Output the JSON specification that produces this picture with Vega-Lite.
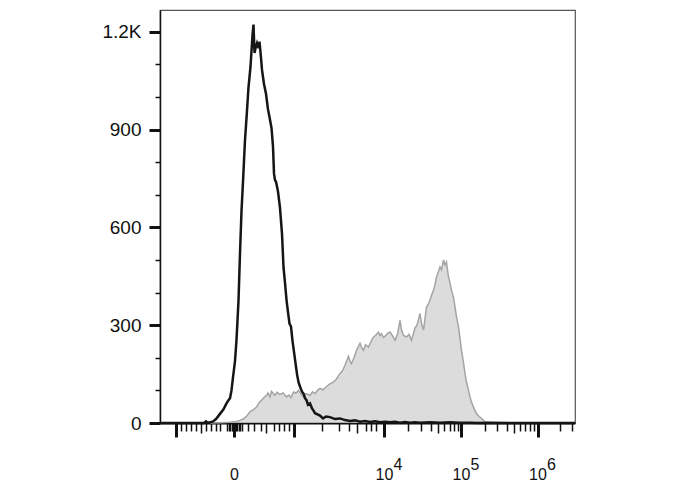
{
  "$schema": "https://vega.github.io/schema/vega-lite/v6.json",
  "width": 415,
  "height": 413,
  "autosize": {"type": "none"},
  "padding": {"left": 160, "top": 10, "right": 113, "bottom": 67},
  "config": {
    "view": {"stroke": "#555555", "strokeWidth": 1.2},
    "font": "Liberation Sans",
    "axis": {"labelFont": "Liberation Sans", "labelColor": "#111111", "grid": false, "tickColor": "#111111", "domainColor": "#111111"}
  },
  "datasets": {
    "control": [
      {"channel": 0, "count": 0}, {"channel": 20, "count": 0}, {"channel": 40, "count": 0}, {"channel": 60, "count": 0},
      {"channel": 80, "count": 0}, {"channel": 88, "count": 0}, {"channel": 92, "count": 5}, {"channel": 95, "count": 1},
      {"channel": 100, "count": 2}, {"channel": 106, "count": 5}, {"channel": 112, "count": 12}, {"channel": 120, "count": 28},
      {"channel": 127, "count": 42}, {"channel": 133, "count": 60}, {"channel": 137, "count": 70}, {"channel": 140, "count": 76},
      {"channel": 143, "count": 100}, {"channel": 146, "count": 140}, {"channel": 150, "count": 190}, {"channel": 153, "count": 255},
      {"channel": 157, "count": 375}, {"channel": 160, "count": 520}, {"channel": 163, "count": 650}, {"channel": 166, "count": 740},
      {"channel": 170, "count": 868}, {"channel": 173, "count": 935}, {"channel": 177, "count": 1030}, {"channel": 181, "count": 1093},
      {"channel": 185, "count": 1190}, {"channel": 187, "count": 1222}, {"channel": 189, "count": 1135}, {"channel": 191, "count": 1150},
      {"channel": 194, "count": 1165}, {"channel": 197, "count": 1150}, {"channel": 199, "count": 1170}, {"channel": 202, "count": 1120},
      {"channel": 204, "count": 1083}, {"channel": 208, "count": 1040}, {"channel": 212, "count": 1010}, {"channel": 216, "count": 962},
      {"channel": 220, "count": 930}, {"channel": 223, "count": 905}, {"channel": 226, "count": 848}, {"channel": 228, "count": 765},
      {"channel": 230, "count": 745}, {"channel": 232, "count": 740}, {"channel": 236, "count": 710}, {"channel": 240, "count": 660},
      {"channel": 244, "count": 580}, {"channel": 247, "count": 478}, {"channel": 250, "count": 430}, {"channel": 253, "count": 378},
      {"channel": 256, "count": 340}, {"channel": 259, "count": 305}, {"channel": 262, "count": 296}, {"channel": 265, "count": 252},
      {"channel": 268, "count": 218}, {"channel": 270, "count": 195}, {"channel": 274, "count": 150}, {"channel": 277, "count": 125},
      {"channel": 280, "count": 112}, {"channel": 284, "count": 96}, {"channel": 287, "count": 90}, {"channel": 290, "count": 76},
      {"channel": 293, "count": 70}, {"channel": 296, "count": 56}, {"channel": 300, "count": 60}, {"channel": 304, "count": 45},
      {"channel": 307, "count": 38}, {"channel": 310, "count": 30}, {"channel": 313, "count": 28}, {"channel": 320, "count": 23},
      {"channel": 326, "count": 14}, {"channel": 332, "count": 20}, {"channel": 340, "count": 18}, {"channel": 350, "count": 12},
      {"channel": 360, "count": 14}, {"channel": 370, "count": 9}, {"channel": 380, "count": 6}, {"channel": 390, "count": 8},
      {"channel": 400, "count": 4}, {"channel": 410, "count": 6}, {"channel": 420, "count": 3}, {"channel": 430, "count": 5},
      {"channel": 440, "count": 2}, {"channel": 450, "count": 4}, {"channel": 460, "count": 2}, {"channel": 470, "count": 4},
      {"channel": 480, "count": 1}, {"channel": 490, "count": 3}, {"channel": 500, "count": 1}, {"channel": 510, "count": 2},
      {"channel": 520, "count": 1}, {"channel": 540, "count": 2}, {"channel": 560, "count": 1}, {"channel": 580, "count": 2},
      {"channel": 600, "count": 1}, {"channel": 620, "count": 1}, {"channel": 640, "count": 0}, {"channel": 660, "count": 1},
      {"channel": 700, "count": 0}, {"channel": 740, "count": 0}, {"channel": 780, "count": 0}, {"channel": 830, "count": 0}
    ],
    "stained": [
      {"channel": 100, "count": 0}, {"channel": 120, "count": 1}, {"channel": 140, "count": 2}, {"channel": 152, "count": 5},
      {"channel": 160, "count": 8}, {"channel": 167, "count": 13}, {"channel": 174, "count": 22}, {"channel": 180, "count": 34},
      {"channel": 186, "count": 40}, {"channel": 193, "count": 49}, {"channel": 198, "count": 62}, {"channel": 203, "count": 70},
      {"channel": 208, "count": 78}, {"channel": 213, "count": 85}, {"channel": 216, "count": 92}, {"channel": 220, "count": 80},
      {"channel": 223, "count": 97}, {"channel": 227, "count": 90}, {"channel": 230, "count": 85}, {"channel": 234, "count": 94},
      {"channel": 240, "count": 88}, {"channel": 246, "count": 92}, {"channel": 253, "count": 80}, {"channel": 258, "count": 86},
      {"channel": 262, "count": 78}, {"channel": 267, "count": 95}, {"channel": 272, "count": 92}, {"channel": 277, "count": 100},
      {"channel": 282, "count": 88}, {"channel": 287, "count": 80}, {"channel": 292, "count": 90}, {"channel": 300, "count": 85},
      {"channel": 305, "count": 96}, {"channel": 310, "count": 90}, {"channel": 315, "count": 100}, {"channel": 320, "count": 106},
      {"channel": 326, "count": 102}, {"channel": 333, "count": 112}, {"channel": 340, "count": 120}, {"channel": 347, "count": 126},
      {"channel": 353, "count": 135}, {"channel": 360, "count": 152}, {"channel": 365, "count": 160}, {"channel": 370, "count": 177},
      {"channel": 377, "count": 205}, {"channel": 380, "count": 190}, {"channel": 383, "count": 182}, {"channel": 388, "count": 200},
      {"channel": 393, "count": 223}, {"channel": 397, "count": 235}, {"channel": 400, "count": 244}, {"channel": 403, "count": 232},
      {"channel": 407, "count": 223}, {"channel": 411, "count": 240}, {"channel": 417, "count": 233}, {"channel": 422, "count": 250},
      {"channel": 427, "count": 264}, {"channel": 432, "count": 270}, {"channel": 437, "count": 279}, {"channel": 440, "count": 268},
      {"channel": 443, "count": 274}, {"channel": 447, "count": 262}, {"channel": 450, "count": 266}, {"channel": 455, "count": 275},
      {"channel": 460, "count": 279}, {"channel": 465, "count": 268}, {"channel": 470, "count": 254}, {"channel": 475, "count": 272},
      {"channel": 480, "count": 315}, {"channel": 483, "count": 285}, {"channel": 487, "count": 269}, {"channel": 490, "count": 266},
      {"channel": 493, "count": 264}, {"channel": 498, "count": 272}, {"channel": 503, "count": 254}, {"channel": 507, "count": 275},
      {"channel": 510, "count": 292}, {"channel": 514, "count": 300}, {"channel": 517, "count": 318}, {"channel": 520, "count": 336},
      {"channel": 523, "count": 305}, {"channel": 527, "count": 285}, {"channel": 530, "count": 320}, {"channel": 533, "count": 356},
      {"channel": 537, "count": 365}, {"channel": 540, "count": 377}, {"channel": 543, "count": 392}, {"channel": 547, "count": 407},
      {"channel": 550, "count": 425}, {"channel": 553, "count": 448}, {"channel": 557, "count": 465}, {"channel": 560, "count": 479},
      {"channel": 563, "count": 470}, {"channel": 567, "count": 500}, {"channel": 570, "count": 485}, {"channel": 573, "count": 494},
      {"channel": 575, "count": 470}, {"channel": 577, "count": 448}, {"channel": 580, "count": 430}, {"channel": 583, "count": 407},
      {"channel": 587, "count": 385}, {"channel": 590, "count": 356}, {"channel": 593, "count": 325}, {"channel": 597, "count": 295},
      {"channel": 600, "count": 260}, {"channel": 603, "count": 223}, {"channel": 607, "count": 185}, {"channel": 610, "count": 152},
      {"channel": 613, "count": 125}, {"channel": 617, "count": 100}, {"channel": 620, "count": 80}, {"channel": 623, "count": 64},
      {"channel": 628, "count": 45}, {"channel": 633, "count": 29}, {"channel": 638, "count": 20}, {"channel": 643, "count": 14},
      {"channel": 650, "count": 4}, {"channel": 660, "count": 1}, {"channel": 680, "count": 0}
    ]
  },
  "layer": [
    {
      "data": {"name": "stained"},
      "mark": {"type": "area", "color": "#cdcdcd", "line": {"color": "#a4a4a4", "strokeWidth": 1.5}},
      "encoding": {
        "x": {
          "field": "channel", "type": "quantitative", "title": null,
          "scale": {"domain": [0, 830], "nice": false, "zero": false},
          "axis": {
            "values": [32, 41, 52, 61, 71, 81, 92, 101, 111, 120, 134, 137, 140, 143, 146, 148, 151, 154, 157, 160, 163, 175, 187, 202, 213, 227, 237, 247, 257, 267, 323, 357, 377, 393, 412, 421, 432, 448, 495, 522, 541, 556, 568, 579, 588, 595, 602, 649, 673, 693, 707, 720, 730, 739, 747, 755, 799, 823],
            "tickCount": 500,
            "domainWidth": 2,
            "tickSize": {"condition": [{"test": "indexof([32,148,267,448,602,755], datum.value) >= 0", "value": 14}, {"test": "indexof([81,213,393,556,707], datum.value) >= 0", "value": 10}], "value": 8},
            "tickWidth": {"condition": {"test": "indexof([32,148,267,448,602,755], datum.value) >= 0", "value": 3}, "value": 1.5},
            "labelExpr": "datum.value == 148 ? ['\u200b', '0'] : datum.value == 448 ? ['\u200b\u00a0\u00a0\u00a0\u00a0\u00a0\u00a04', '10'] : datum.value == 602 ? ['\u200b\u00a0\u00a0\u00a0\u00a0\u00a0\u00a05', '10'] : datum.value == 755 ? ['\u200b\u00a0\u00a0\u00a0\u00a0\u00a0\u00a06', '10'] : ''",
            "labelFontSize": 16,
            "labelLineHeight": 10,
            "labelPadding": 19,
            "labelOverlap": false,
            "labelFlush": false,
            "labelBound": false
          }
        },
        "y": {
          "field": "count", "type": "quantitative", "title": null,
          "scale": {"domain": [0, 1267], "nice": false},
          "axis": {
            "values": [0, 100, 200, 300, 400, 500, 600, 700, 800, 900, 1000, 1100, 1200],
            "tickCount": 500,
            "domainWidth": 1.5,
            "tickSize": {"condition": {"test": "datum.value % 300 == 0", "value": 11}, "value": 5},
            "tickWidth": {"condition": {"test": "datum.value % 300 == 0", "value": 3}, "value": 1.5},
            "labelExpr": "datum.value == 1200 ? '1.2K' : datum.value % 300 == 0 ? datum.label : ''",
            "labelFontSize": 19,
            "labelPadding": 8,
            "labelOverlap": false,
            "labelFlush": false,
            "labelBound": false
          }
        }
      }
    },
    {
      "data": {"name": "control"},
      "mark": {"type": "line", "color": "#151515", "strokeWidth": 2.5},
      "encoding": {
        "x": {"field": "channel", "type": "quantitative"},
        "y": {"field": "count", "type": "quantitative"}
      }
    }
  ]
}
